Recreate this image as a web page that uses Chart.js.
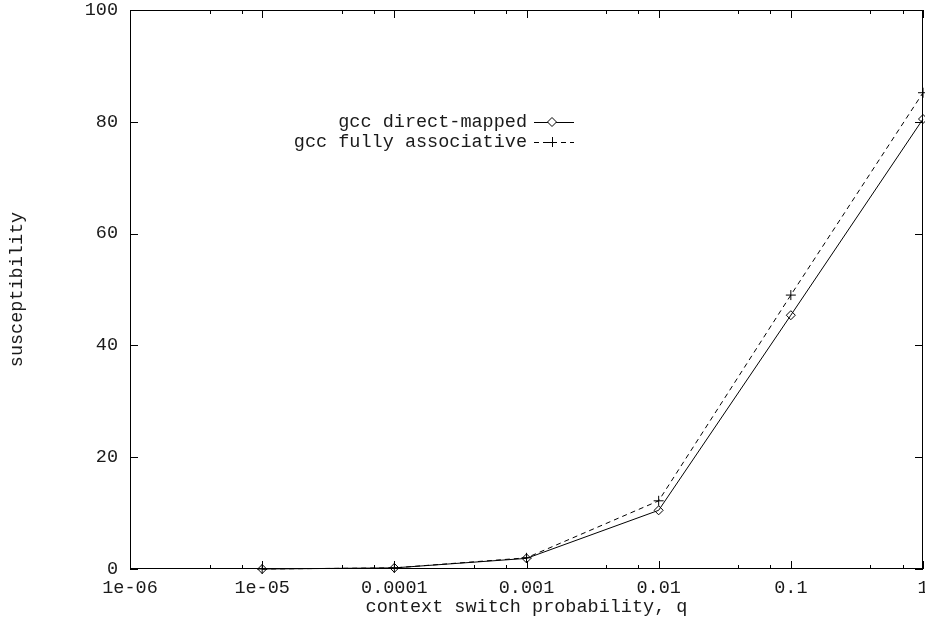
<!DOCTYPE html>
<html>
<head>
<meta charset="utf-8">
<script src="https://cdn.jsdelivr.net/npm/chart.js@4.4.1/dist/chart.umd.min.js"></script>
<style>
  html, body { margin: 0; padding: 0; background: #ffffff; }
  #wrap { width: 925px; height: 621px; }
</style>
</head>
<body>
<div id="wrap"><canvas id="c" width="925" height="621"></canvas></div>
<script>
// Context switch probability q (x) and measured susceptibility (y)
const qValues = [1e-5, 1e-4, 1e-3, 1e-2, 1e-1, 1];
const directMapped = [0, 0.2, 1.9, 10.5, 45.4, 80.5];
const fullyAssociative = [0, 0.2, 2.0, 12.2, 49.0, 85.2];
const seriesNames = ['gcc direct-mapped', 'gcc fully associative'];

const xTickValues = [1e-6, 1e-5, 1e-4, 1e-3, 1e-2, 1e-1, 1];
const xTickLabels = ['1e-06', '1e-05', '0.0001', '0.001', '0.01', '0.1', '1'];
const xMinorFactors = [4, 7];
const yTickValues = [0, 20, 40, 60, 80, 100];
const xTitle = 'context switch probability, q';
const yTitle = 'susceptibility';

const FONT = { family: '"Liberation Mono", "DejaVu Sans Mono", monospace', size: 18.5 };
const TEXT = '#1a1a1a';
const INK = '#000000';

function toPoints(ys) {
  return qValues.map((q, i) => ({ x: q, y: ys[i] }));
}

// Frame with inward major/minor ticks on all four sides
const framePlugin = {
  id: 'frame',
  beforeDatasetsDraw(chart) {
    const { ctx, chartArea: a, scales: { x, y } } = chart;
    ctx.save();
    ctx.strokeStyle = INK;
    ctx.lineWidth = 1;
    ctx.strokeRect(Math.round(a.left) + 0.5, Math.round(a.top) + 0.5,
                   Math.round(a.right - a.left) - 1, Math.round(a.bottom - a.top) - 1);
    ctx.beginPath();
    const major = 8, minor = 4;
    xTickValues.forEach((v, i) => {
      const px = Math.round(x.getPixelForValue(v)) + 0.5;
      ctx.moveTo(px, a.bottom); ctx.lineTo(px, a.bottom - major);
      ctx.moveTo(px, a.top); ctx.lineTo(px, a.top + major);
      if (i < xTickValues.length - 1) {
        xMinorFactors.forEach(f => {
          const mx = Math.round(x.getPixelForValue(v * f)) + 0.5;
          ctx.moveTo(mx, a.bottom); ctx.lineTo(mx, a.bottom - minor);
          ctx.moveTo(mx, a.top); ctx.lineTo(mx, a.top + minor);
        });
      }
    });
    yTickValues.forEach(v => {
      const py = Math.round(y.getPixelForValue(v)) + 0.5;
      ctx.moveTo(a.left, py); ctx.lineTo(a.left + major, py);
      ctx.moveTo(a.right, py); ctx.lineTo(a.right - major, py);
    });
    ctx.stroke();
    ctx.restore();
  }
};

// Key drawn inside the plot, text right-aligned before each line sample
const keyPlugin = {
  id: 'key',
  afterDraw(chart) {
    const { ctx } = chart;
    const textRight = 527, sx0 = 534, sx1 = 574, mid = 552;
    const rows = [122, 142];
    ctx.save();
    ctx.font = FONT.size + 'px ' + FONT.family;
    ctx.textAlign = 'right';
    ctx.textBaseline = 'middle';
    chart.data.datasets.forEach((ds, i) => {
      const yy = rows[i];
      ctx.fillStyle = TEXT;
      ctx.fillText(ds.label, textRight, yy);
      ctx.strokeStyle = INK;
      ctx.lineWidth = 1;
      ctx.setLineDash(ds.borderDash || []);
      ctx.beginPath();
      ctx.moveTo(sx0, yy + 0.5); ctx.lineTo(sx1, yy + 0.5);
      ctx.stroke();
      ctx.setLineDash([]);
      const r = ds.pointRadius;
      ctx.beginPath();
      if (ds.pointStyle === 'rectRot') {
        ctx.moveTo(mid - r, yy); ctx.lineTo(mid, yy - r);
        ctx.lineTo(mid + r, yy); ctx.lineTo(mid, yy + r); ctx.closePath();
        ctx.fillStyle = '#ffffff'; ctx.fill();
      } else {
        ctx.moveTo(mid - r, yy + 0.5); ctx.lineTo(mid + r, yy + 0.5);
        ctx.moveTo(mid + 0.5, yy - r); ctx.lineTo(mid + 0.5, yy + r);
      }
      ctx.stroke();
    });
    ctx.restore();
  }
};

new Chart(document.getElementById('c'), {
  type: 'line',
  data: {
    datasets: [
      {
        label: seriesNames[0],
        data: toPoints(directMapped),
        borderColor: INK,
        borderWidth: 1,
        backgroundColor: 'transparent',
        pointStyle: 'rectRot',
        pointRadius: 4.5,
        pointBorderColor: INK,
        pointBackgroundColor: 'transparent',
        pointBorderWidth: 1,
        tension: 0,
        clip: false
      },
      {
        label: seriesNames[1],
        data: toPoints(fullyAssociative),
        borderColor: INK,
        borderWidth: 1,
        borderDash: [5, 4],
        backgroundColor: 'transparent',
        pointStyle: 'cross',
        pointRadius: 5,
        pointBorderColor: INK,
        pointBorderWidth: 1,
        tension: 0,
        clip: false
      }
    ]
  },
  options: {
    responsive: false,
    animation: false,
    devicePixelRatio: 1,
    layout: { autoPadding: false, padding: { top: 10, right: 2, left: 0, bottom: 0 } },
    plugins: { legend: { display: false }, tooltip: { enabled: false } },
    scales: {
      x: {
        type: 'logarithmic',
        min: 1e-6,
        max: 1,
        grid: { display: false, drawTicks: false, tickLength: 0 },
        border: { display: false },
        afterBuildTicks: s => { s.ticks = xTickValues.map(v => ({ value: v })); },
        afterFit: s => { s.height = 52; s.paddingLeft = 0; s.paddingRight = 0; },
        ticks: {
          autoSkip: false,
          maxRotation: 0,
          minRotation: 0,
          padding: 8,
          color: TEXT,
          font: FONT,
          callback: v => {
            const i = xTickValues.findIndex(t => Math.abs(Math.log10(t) - Math.log10(v)) < 1e-6);
            return i >= 0 ? xTickLabels[i] : '';
          }
        },
        title: { display: true, text: xTitle, color: TEXT, font: FONT, padding: { top: 0, bottom: 3 } }
      },
      y: {
        min: 0,
        max: 100,
        grid: { display: false, drawTicks: false, tickLength: 0 },
        border: { display: false },
        afterBuildTicks: s => { s.ticks = yTickValues.map(v => ({ value: v })); },
        afterFit: s => { s.width = 130; s.paddingTop = 0; s.paddingBottom = 0; },
        ticks: { padding: 12, color: TEXT, font: FONT },
        title: { display: true, text: yTitle, color: TEXT, font: FONT, padding: { top: 6, bottom: 0 } }
      }
    }
  },
  plugins: [framePlugin, keyPlugin]
});
</script>
</body>
</html>
